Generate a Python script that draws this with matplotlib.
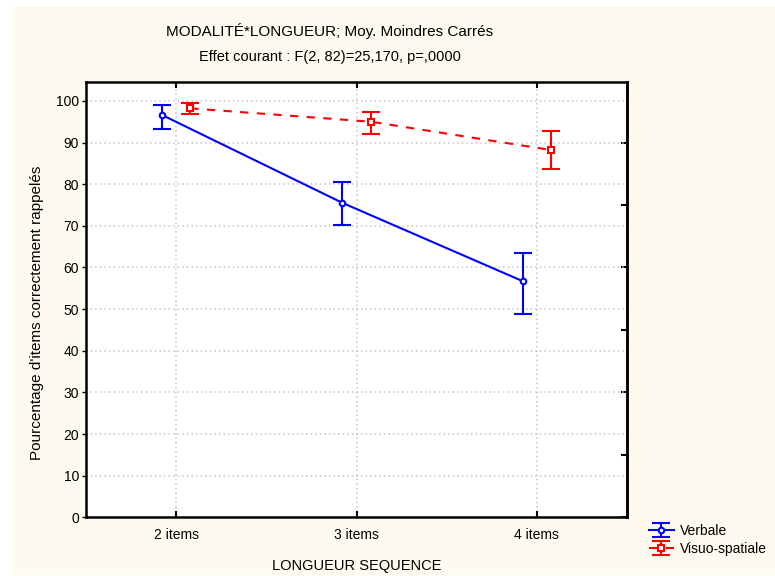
#!/usr/bin/env python3
"""Mean recall by sequence length and modality, with error bars."""

import matplotlib

matplotlib.use("Agg")
import matplotlib.pyplot as plt
from matplotlib.patches import Rectangle
from matplotlib.ticker import MultipleLocator

categories = ["2 items", "3 items", "4 items"]

verbal_mean = [96.6, 75.5, 56.7]
verbal_upper = [99.0, 80.4, 63.5]
verbal_lower = [93.3, 70.2, 48.7]

visuo_mean = [98.2, 95.0, 88.2]
visuo_upper = [99.4, 97.4, 92.8]
visuo_lower = [96.8, 92.0, 83.7]

plt.rcParams["font.family"] = ["Liberation Sans", "DejaVu Sans"]

fig = plt.figure(figsize=(7.75, 5.76), dpi=100, facecolor="white")
fig.patches.append(
    Rectangle((12 / 775, 1 / 576), 1, 1 - 7 / 576, transform=fig.transFigure,
              facecolor="#fefaef", edgecolor="none", zorder=-10)
)

ax = fig.add_axes([86 / 775, 1 - 517.3 / 576, 541 / 775, 435.6 / 576])
ax.set_facecolor("white")

xs = range(1, len(categories) + 1)
shift = 0.078

def bar_errors(mean, upper, lower):
    return [[m - lo for m, lo in zip(mean, lower)], [up - m for m, up in zip(mean, upper)]]

verbal = ax.errorbar(
    [x - shift for x in xs], verbal_mean, yerr=bar_errors(verbal_mean, verbal_upper, verbal_lower),
    color="#0000ff", lw=1.5, elinewidth=1.5, capsize=6.5, capthick=1.5,
    marker="o", ms=4, mfc="white", mew=1.5, label="Verbale", zorder=3,
)
visuo = ax.errorbar(
    [x + shift for x in xs], visuo_mean, yerr=bar_errors(visuo_mean, visuo_upper, visuo_lower),
    color="#ff0000", lw=1.5, ls=(0, (4, 4)), elinewidth=1.5, capsize=6.5, capthick=1.5,
    marker="s", ms=4, mfc="white", mew=1.5, label="Visuo-spatiale", zorder=3,
)
visuo[-1][0].set_linestyle("-")

ax.set_xlim(0.5, 3.5)
ax.set_ylim(0, 104.6)
ax.set_xticks(list(xs))
ax.set_xticklabels(categories, fontsize=10)
ax.yaxis.set_major_locator(MultipleLocator(10))
ax.tick_params(axis="y", labelsize=10, length=3, width=1, direction="out", pad=2)
ax.tick_params(axis="x", length=4, width=1.5, direction="in", top=True, pad=8)
ax.grid(True, color="#c4c4c4", linestyle=(0, (1, 2)), linewidth=1.1)

# secondary inward ticks on the right edge
right = ax.secondary_yaxis("right")
right.yaxis.set_major_locator(MultipleLocator(15))
right.tick_params(length=4, width=1.5, direction="in", labelright=False)
right.spines["right"].set_linewidth(1.8)

for side in ["left", "bottom", "right", "top"]:
    ax.spines[side].set_linewidth(1.8)

ax.set_xlabel("LONGUEUR SEQUENCE", fontsize=10.5, labelpad=12)
fig.text(37 / 775, 1 - 313 / 576, "Pourcentage d'items correctement rappelés",
         rotation=90, ha="center", va="center", fontsize=11)

fig.text(330 / 775, 1 - 30.7 / 576, "MODALITÉ*LONGUEUR; Moy. Moindres Carrés",
         ha="center", va="center", fontsize=11)
fig.text(330 / 775, 1 - 56.7 / 576, "Effet courant : F(2, 82)=25,170, p=,0000",
         ha="center", va="center", fontsize=10.5)

fig.legend(handles=[verbal, visuo], loc="upper left", bbox_to_anchor=(643 / 775, 1 - 518 / 576),
           frameon=False, fontsize=10, handlelength=1.8, handletextpad=0.45,
           labelspacing=0.3, borderaxespad=0)

fig.savefig("out.png", dpi=100, facecolor=fig.get_facecolor())
